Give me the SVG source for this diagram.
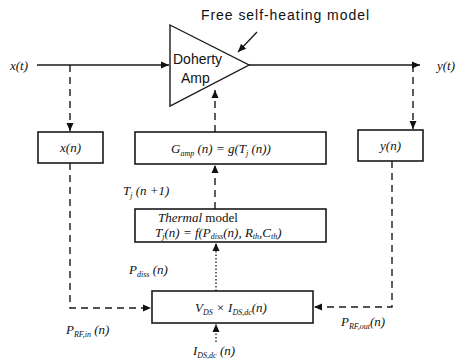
<svg xmlns="http://www.w3.org/2000/svg" width="465" height="360" viewBox="0 0 465 360">
<style>
.bx{fill:#fff;stroke:#1a1a1a;stroke-width:1.6}
.ln{fill:none;stroke:#1a1a1a;stroke-width:1.3}
.ds{fill:none;stroke:#1a1a1a;stroke-width:1.4;stroke-dasharray:7,5}
.dt{fill:none;stroke:#1a1a1a;stroke-width:1.3;stroke-dasharray:1.5,2}
.m{font-family:"Liberation Serif",serif;font-style:italic;font-size:13px;fill:#111}
.s{font-size:8px}
.sf{font-family:"Liberation Sans",Arial,sans-serif;font-size:14px;fill:#111}
</style>
<defs>
<marker id="ah" markerUnits="userSpaceOnUse" markerWidth="9" markerHeight="8" refX="8" refY="4" orient="auto">
<path d="M0,0.5 L8,4 L0,7.5 Z" fill="#111"/>
</marker>
</defs>
<rect width="465" height="360" fill="#fff"/>
<g id="connectors">
<path class="ln" d="M37,65 H169" marker-end="url(#ah)"/>
<path class="ln" d="M249,65 H420" marker-end="url(#ah)"/>
<path class="ln" d="M257,32 L238,52" marker-end="url(#ah)"/>
<path class="ds" d="M70,65 V131" marker-end="url(#ah)"/>
<path class="ds" d="M413,65 V129" marker-end="url(#ah)"/>
<path class="ds" d="M215,132 V90" marker-end="url(#ah)"/>
<path class="ds" d="M215,209 V165" marker-end="url(#ah)"/>
<path class="dt" d="M216,291 V243" marker-end="url(#ah)"/>
<path class="ds" d="M70,163 V308 H151" marker-end="url(#ah)"/>
<path class="ds" d="M392,161 V307 H314" marker-end="url(#ah)"/>
<path class="dt" d="M216,342 V324" marker-end="url(#ah)"/>
</g>
<g id="amp">
<polygon points="170,25 249,65 170,106" fill="#fff" stroke="#1a1a1a" stroke-width="1.4"/>
<text class="sf" x="173" y="64" font-size="15px">Doherty</text>
<text class="sf" x="181" y="83" font-size="15px">Amp</text>
</g>
<g id="title">
<text class="sf" x="201" y="20" textLength="168">Free self-heating model</text>
</g>
<g id="xt"><text class="m" x="10" y="70">x(t)</text></g>
<g id="yt"><text class="m" x="437" y="70">y(t)</text></g>
<g id="xn">
<rect class="bx" x="38" y="132" width="65" height="31"/>
<text class="m" x="70.5" y="152" text-anchor="middle">x(n)</text>
</g>
<g id="gamp">
<rect class="bx" x="135" y="132" width="191" height="32"/>
<text class="m" x="221" y="153" text-anchor="middle">G<tspan class="s" dy="3">amp</tspan><tspan dy="-3"> (n) = g(T</tspan><tspan class="s" dy="3">j</tspan><tspan dy="-3"> (n))</tspan></text>
</g>
<g id="yn">
<rect class="bx" x="358" y="130" width="65" height="31"/>
<text class="m" x="390.5" y="150" text-anchor="middle">y(n)</text>
</g>
<g id="tj"><text class="m" x="123" y="195">T<tspan class="s" dy="3">j</tspan><tspan dy="-3"> (n +1)</tspan></text></g>
<g id="thermal">
<rect class="bx" x="135" y="209" width="191" height="33"/>
<text class="m" x="158" y="222" font-size="9.5px">Thermal<tspan font-style="normal"> model</tspan></text>
<text class="m" x="155" y="237" font-size="11.5px">T<tspan class="s" dy="2">j</tspan><tspan dy="-2">(n) = f(P</tspan><tspan class="s" dy="2">diss</tspan><tspan dy="-2">(n), R</tspan><tspan class="s" dy="2">th</tspan><tspan dy="-2">,C</tspan><tspan class="s" dy="2">th</tspan><tspan dy="-2">)</tspan></text>
</g>
<g id="pdiss"><text class="m" x="129" y="274">P<tspan class="s" dy="3">diss</tspan><tspan dy="-3"> (n)</tspan></text></g>
<g id="vds">
<rect class="bx" x="152" y="291" width="161" height="32"/>
<text class="m" x="231" y="312" text-anchor="middle">V<tspan class="s" dy="3">DS</tspan><tspan dy="-3"> × I</tspan><tspan class="s" dy="3">DS,dc</tspan><tspan dy="-3">(n)</tspan></text>
</g>
<g id="prfin"><text class="m" x="66" y="334">P<tspan class="s" dy="3">RF,in</tspan><tspan dy="-3"> (n)</tspan></text></g>
<g id="prfout"><text class="m" x="341" y="326">P<tspan class="s" dy="3">RF,out</tspan><tspan dy="-3">(n)</tspan></text></g>
<g id="idc"><text class="m" x="193" y="355">I<tspan class="s" dy="3">DS,dc</tspan><tspan dy="-3"> (n)</tspan></text></g>
</svg>
